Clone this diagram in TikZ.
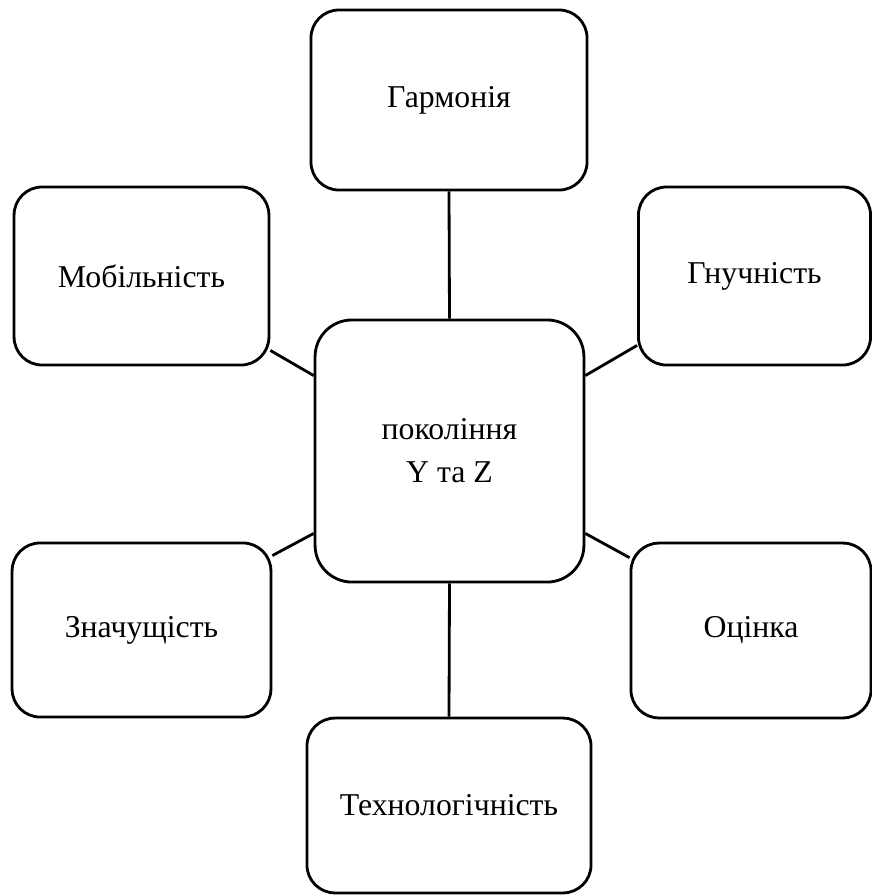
\documentclass[tikz,border=0pt]{standalone}
\usepackage{fontspec}
\setmainfont{Liberation Serif}
\newfontfamily\boxfont{Liberation Serif}
\usepackage{tikz}
\usetikzlibrary{calc}

\begin{document}
\begin{tikzpicture}[x=0.025cm,y=-0.025cm,
  box/.style={draw,line width=2pt,rounded corners=0.7cm,align=center,
    inner sep=0pt,font=\boxfont\fontsize{22.6}{30.5}\selectfont},
  link/.style={line width=2pt}]
\useasboundingbox (0,0) rectangle (872,896);
% center
\node[box,rounded corners=0.92cm,minimum width=6.72cm,minimum height=6.55cm] (cen) at (449.5,451) {покоління\\Y та Z};
% outer boxes
\node[box,minimum width=6.9cm,minimum height=4.5cm] (garm) at (449,100) {Гармонія};
\node[box,minimum width=6.37cm,minimum height=4.45cm] (mob) at (141.5,276) {Мобільність};
\node[box,minimum width=5.8cm,minimum height=4.45cm] (gnuch) at (754.5,276) {Гнучність};
\node[box,minimum width=6.47cm,minimum height=4.35cm] (znach) at (141.5,630) {Значущість};
\node[box,minimum width=6cm,minimum height=4.37cm] (ocin) at (751,630.5) {Оцінка};
\node[box,minimum width=7.1cm,minimum height=4.37cm] (tech) at (449,805.5) {Технологічність};
% links
\draw[link] (garm.south) -- (cen.north);
\draw[link] (cen.south) -- (tech.north);
\draw[link] ($(mob.south east)+(0,-16)$) -- ($(cen.north west)+(0,57)$);
\draw[link] ($(gnuch.south west)+(0,-21)$) -- ($(cen.north east)+(0,57)$);
\draw[link] ($(znach.north east)+(0,14)$) -- ($(cen.south west)+(0,-50)$);
\draw[link] ($(ocin.north west)+(0,16)$) -- ($(cen.south east)+(0,-50)$);
\end{tikzpicture}
\end{document}
